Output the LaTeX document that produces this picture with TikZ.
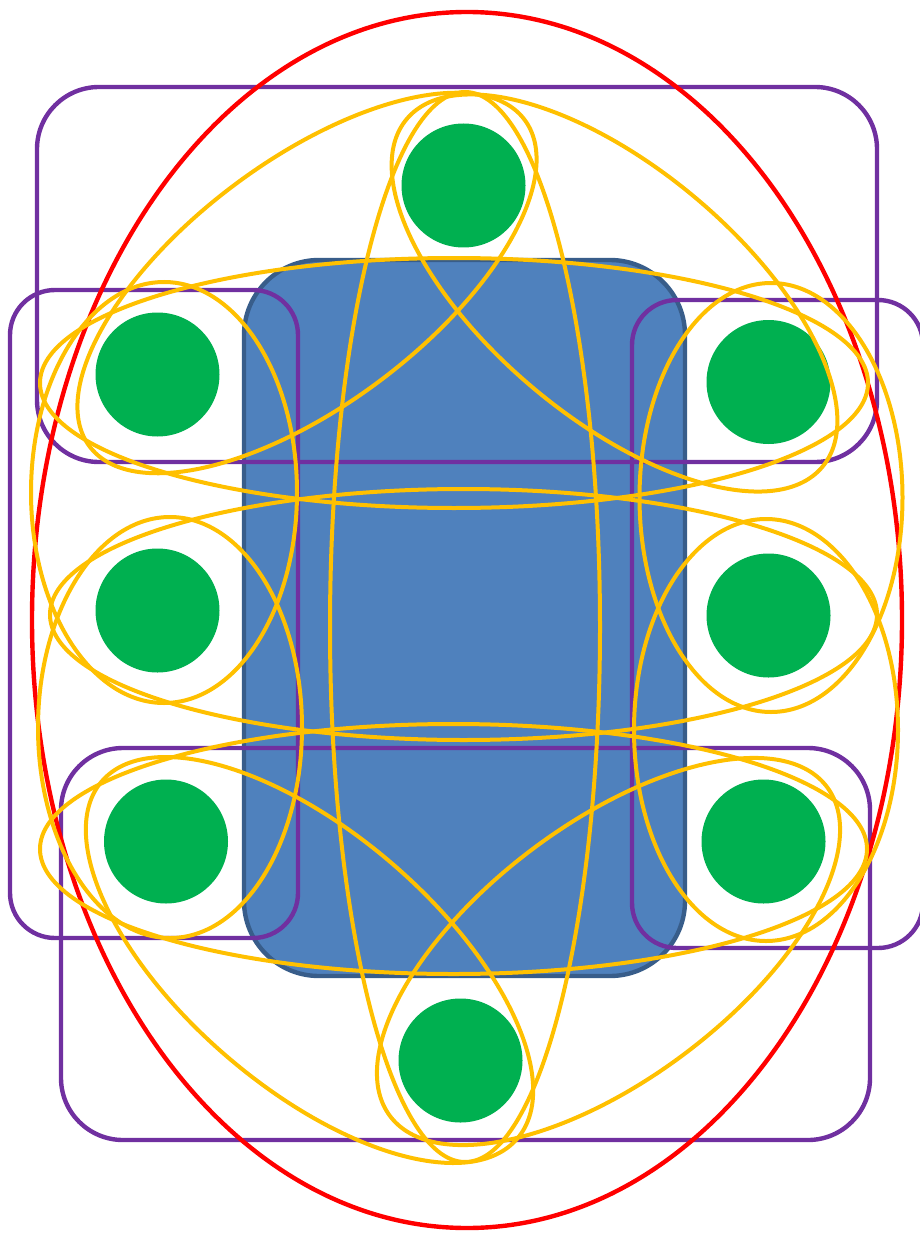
\documentclass[tikz,border=0pt]{standalone}
\definecolor{yel}{HTML}{FFC000}
\definecolor{pur}{HTML}{7030A0}
\definecolor{grn}{HTML}{00B050}
\definecolor{bfill}{HTML}{4F81BD}
\definecolor{bdraw}{HTML}{385D8A}
\begin{document}
\begin{tikzpicture}[x=1pt,y=-1pt,
  vert/.style={circle,fill=grn,draw=none,minimum size=124pt,inner sep=0pt},
  grp/.style={draw=pur,line width=4.4pt},
  hedge/.style={draw=yel,line width=4pt},
  outer/.style={draw=red,line width=4.4pt}]
\useasboundingbox (0,0) rectangle (920,1233);
% central block
\draw[bdraw,fill=bfill,line width=4.4pt,rounded corners=75pt] (244,260) rectangle (685,976);
% purple groups
\draw[grp,rounded corners=62pt] (37,87) rectangle (877,462);
\draw[grp,rounded corners=45pt] (10,290) rectangle (298,938);
\draw[grp,rounded corners=45pt] (632,300) rectangle (923,948);
\draw[grp,rounded corners=62pt] (61,748) rectangle (870,1140);
% red outer ellipse
\draw[outer] (467,620) ellipse [x radius=435pt, y radius=608pt];
% vertices
\node[vert] (T)  at (463.5,185.5) {};
\node[vert] (LT) at (157.5,374.5) {};
\node[vert] (RT) at (768.5,382) {};
\node[vert] (LM) at (157.5,610.5) {};
\node[vert] (RM) at (768.5,615.5) {};
\node[vert] (LB) at (166,841.5) {};
\node[vert] (RB) at (763.5,841.5) {};
\node[vert] (B)  at (460.5,1060.5) {};
% yellow hyperedges
\draw[hedge] (454,383) ellipse [x radius=414pt, y radius=125pt];
\draw[hedge] (463.5,614.5) ellipse [x radius=413.5pt, y radius=125.5pt];
\draw[hedge] (453.5,849) ellipse [x radius=413.5pt, y radius=125pt];
\draw[hedge] (465,627) ellipse [x radius=135pt, y radius=535pt];
\draw[hedge] (164,492.5) ellipse [x radius=133pt, y radius=210.5pt];
\draw[hedge] (170,727.5) ellipse [x radius=132pt, y radius=210.5pt];
\draw[hedge] (771,497.5) ellipse [x radius=131.5pt, y radius=214.5pt];
\draw[hedge] (766,730) ellipse [x radius=132pt, y radius=211pt];
\draw[hedge,shift={(307,283)},rotate=36.9] (0,0) ellipse [x radius=272pt, y radius=122pt];
\draw[hedge,shift={(614.5,293)},rotate=-39.9] (0,0) ellipse [x radius=271pt, y radius=125pt];
\draw[hedge,shift={(309.5,960)},rotate=-40.7] (0,0) ellipse [x radius=274pt, y radius=127pt];
\draw[hedge,shift={(608.5,951.5)},rotate=37] (0,0) ellipse [x radius=273.5pt, y radius=127.5pt];
\end{tikzpicture}
\end{document}
